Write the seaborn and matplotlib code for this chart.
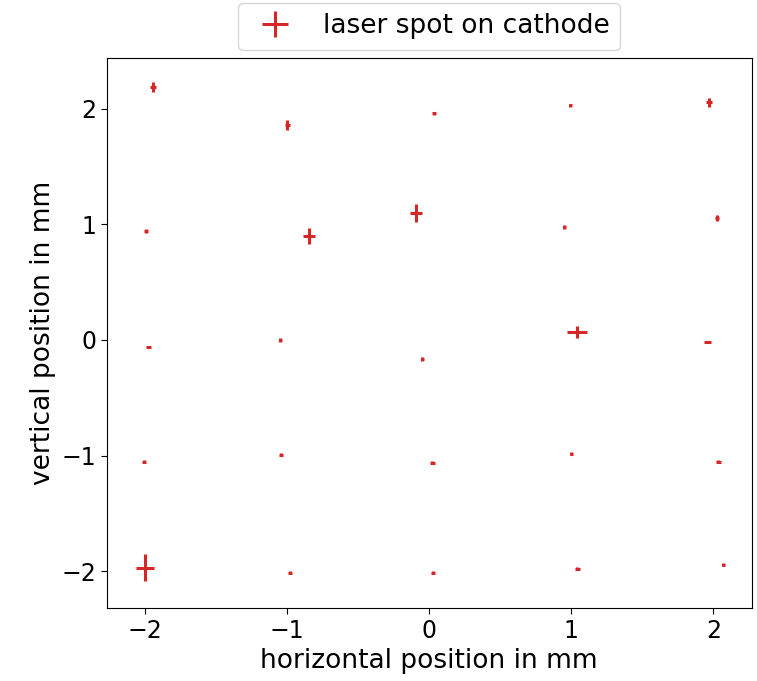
import numpy as np
import pandas as pd
import matplotlib
matplotlib.use("Agg")
import matplotlib.pyplot as plt
import seaborn as sns

# measured laser spot positions (mm)
x_pos = [-1.944, -1.000, 0.035, 0.993, 1.970,
         -1.993, -0.845, -0.092, 0.951, 2.028,
         -1.979, -1.049, -0.049, 1.042, 1.958,
         -2.007, -1.042, 0.021, 1.000, 2.035,
         -2.000, -0.979, 0.028, 1.042, 2.070]
y_pos = [2.186, 1.857, 1.960, 2.030, 2.056,
         0.942, 0.898, 1.097, 0.976, 1.054,
         -0.060, 0.000, -0.164, 0.069, -0.017,
         -1.054, -0.994, -1.063, -0.985, -1.054,
         -1.970, -2.013, -2.013, -1.978, -1.944]
x_err = [0.022, 0.018, 0.014, 0.010, 0.022,
         0.014, 0.042, 0.042, 0.012, 0.014,
         0.018, 0.010, 0.012, 0.070, 0.025,
         0.012, 0.016, 0.018, 0.012, 0.018,
         0.063, 0.012, 0.012, 0.018, 0.012]
y_err = [0.043, 0.043, 0.016, 0.012, 0.040,
         0.020, 0.070, 0.078, 0.020, 0.025,
         0.010, 0.016, 0.016, 0.050, 0.012,
         0.014, 0.012, 0.012, 0.014, 0.012,
         0.117, 0.016, 0.016, 0.012, 0.014]

df = pd.DataFrame({"x": x_pos, "y": y_pos, "xerr": x_err, "yerr": y_err})

sns.set_style("ticks", {"axes.edgecolor": "black", "xtick.color": "black",
                        "ytick.color": "black", "text.color": "black",
                        "axes.labelcolor": "black"})
plt.rcParams["font.family"] = ["DejaVu Sans"]

fig = plt.figure(figsize=(7.57, 6.81), dpi=100)
ax = fig.add_axes([0.141, 0.107, 0.852, 0.808])

red = "#d62728"
ax.errorbar(df["x"], df["y"], xerr=df["xerr"], yerr=df["yerr"], fmt="none",
            ecolor=red, elinewidth=2.2, capsize=0, label="laser spot on cathode")

ax.set_xlim(-2.27, 2.27)
ax.set_ylim(-2.32, 2.44)
ax.set_xticks([-2, -1, 0, 1, 2])
ax.set_yticks([-2, -1, 0, 1, 2])
ax.tick_params(labelsize=17, direction="out", length=4, colors="black")
ax.set_xlabel("horizontal position in mm", fontsize=19, color="black")
ax.set_ylabel("vertical position in mm", fontsize=19, color="black")
for s in ax.spines.values():
    s.set_color("black")
    s.set_linewidth(0.8)

ax.legend(loc="lower center", bbox_to_anchor=(0.5, 1.0), fontsize=19,
          frameon=True, borderaxespad=0.3)

fig.savefig("out.png", dpi=100)
